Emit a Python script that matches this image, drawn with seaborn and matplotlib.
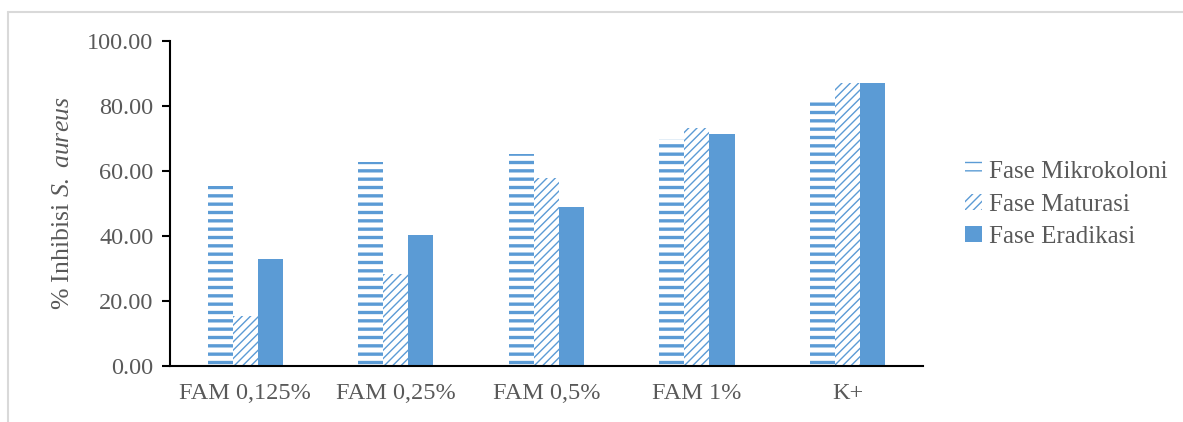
import pandas as pd
import seaborn as sns
import matplotlib.pyplot as plt
from matplotlib.patches import Patch
from matplotlib.lines import Line2D

groups = ['FAM 0,125%', 'FAM 0,25%', 'FAM 0,5%', 'FAM 1%', 'K+']
phases = ['Fase Mikrokoloni', 'Fase Maturasi', 'Fase Eradikasi']
mikrokoloni = [55.5, 62.8, 65.2, 70.0, 82.5]
maturasi = [15.4, 28.2, 57.9, 73.1, 87.0]
eradikasi = [32.9, 40.3, 49.0, 71.4, 87.0]

blue = '#5B9BD5'
grey = '#595959'

df = pd.DataFrame({
    'Kelompok': groups * 3,
    'Fase': [p for p in phases for _ in groups],
    'Inhibisi': mikrokoloni + maturasi + eradikasi,
})

sns.set_style("white")
plt.rcParams['font.family'] = ['Liberation Serif', 'DejaVu Serif']
plt.rcParams['mathtext.fontset'] = 'custom'
plt.rcParams['mathtext.rm'] = 'Liberation Serif'
plt.rcParams['mathtext.it'] = 'Liberation Serif:italic'
plt.rcParams['hatch.linewidth'] = 1.0

fig = plt.figure(figsize=(11.83, 4.22), dpi=100)
ax = fig.add_axes([0.1437, 0.1327, 0.6363, 0.7701])

sns.barplot(data=df, x='Kelompok', y='Inhibisi', hue='Fase', hue_order=phases,
            palette=[blue, blue, blue], width=0.5, gap=0, saturation=1,
            legend=False, ax=ax)

styles = [
    dict(facecolor='white', hatch='--', lw=2.4),
    dict(facecolor='white', hatch='////', lw=1.0),
    dict(facecolor=blue, hatch=None, lw=1.0),
]
for cont, st in zip(ax.containers, styles):
    for bar in cont:
        bar.set_facecolor(st['facecolor'])
        bar.set_edgecolor(blue)
        bar.set_linewidth(0)
        if st['hatch']:
            bar.set_hatch(st['hatch'])
            if hasattr(bar, 'set_hatch_linewidth'):
                bar.set_hatch_linewidth(st['lw'])

ax.set_ylim(0, 100)
ax.set_xlim(-0.5, 4.5)
ax.set_yticks([0, 20, 40, 60, 80, 100])
ax.set_yticklabels([f'{v:.2f}' for v in [0, 20, 40, 60, 80, 100]])
ax.set_xlabel('')
ax.set_ylabel(r'% Inhibisi $\it{S.\ aureus}$', fontsize=18.5, color=grey)
ax.yaxis.set_label_coords(-0.128, 0.5)
ax.tick_params(axis='y', left=True, length=6, width=1.5, color='black',
               labelsize=17.5, labelcolor=grey, pad=6)
ax.tick_params(axis='x', bottom=False, labelsize=17.5, labelcolor=grey, pad=9)
for s in ['top', 'right']:
    ax.spines[s].set_visible(False)
for s in ['left', 'bottom']:
    ax.spines[s].set_color('black')
    ax.spines[s].set_linewidth(1.5)

handles = [
    Patch(facecolor='white', edgecolor=blue, hatch='--', linewidth=0),
    Patch(facecolor='white', edgecolor=blue, hatch='////', linewidth=0),
    Patch(facecolor=blue, edgecolor=blue, linewidth=0),
]
fig.legend(handles, phases, loc='center left', bbox_to_anchor=(0.797, 0.515),
           frameon=False, fontsize=18, labelcolor=grey, handlelength=0.65,
           handleheight=0.6, handletextpad=0.3, labelspacing=0.42)

# light grey frame around the chart area
fig.add_artist(Line2D([8 / 1183, 1], [1 - 11.5 / 422, 1 - 11.5 / 422],
                      color='#d9d9d9', lw=1.5, transform=fig.transFigure))
fig.add_artist(Line2D([8 / 1183, 8 / 1183], [0, 1 - 11.5 / 422],
                      color='#d9d9d9', lw=1.5, transform=fig.transFigure))

fig.savefig('out.png', dpi=100)
